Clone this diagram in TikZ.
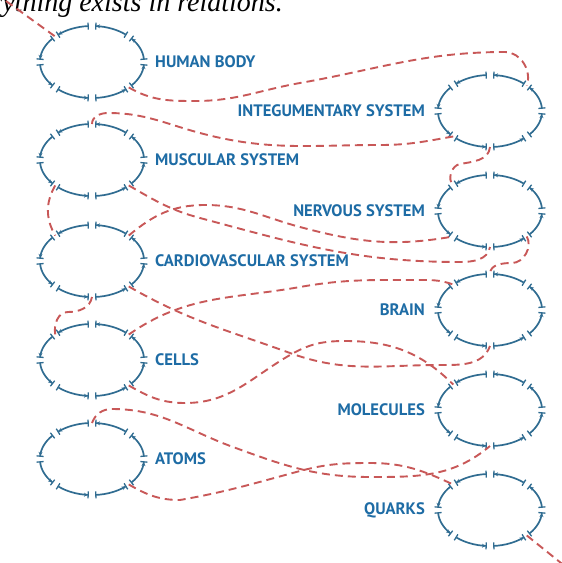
\documentclass[tikz,border=0pt]{standalone}
\usepackage{fontspec}
\setmainfont{Liberation Serif}
\newfontfamily\labelfont{PT Sans}
\usetikzlibrary{arrows.meta,positioning,shapes.geometric,calc}
\definecolor{ringblue}{RGB}{48,108,145}
\definecolor{labelblue}{RGB}{30,108,165}
\definecolor{linkred}{RGB}{200,88,88}

\begin{document}
\begin{tikzpicture}[
  x=1pt,y=1pt,
  ring/.style={ellipse,minimum width=104pt,minimum height=72pt,inner sep=0pt,outer sep=0pt},
  arcseg/.style={ringblue,line width=1.7pt,
                 arrows={Bar[width=7pt,line width=1.3pt]-Stealth[length=3.5pt,width=4pt]Bar[width=7pt,line width=1.3pt]}},
  lbl/.style={font=\labelfont\bfseries\fontsize{16.6}{18}\selectfont,text=labelblue,inner sep=0pt},
  motto/.style={font=\itshape\fontsize{28}{30}\selectfont,inner sep=0pt,anchor=base east},
  link/.style={linkred,line width=1.9pt,dash pattern=on 8pt off 5pt},
]
\useasboundingbox (0,0) rectangle (562,-563);

% Column centres and row heights, in pixels of the page (y runs down, so rows are negative).
\def\LX{92}
\def\RX{490}
\def\rowA{-62}   \def\rowB{-160}  \def\rowC{-261}  \def\rowD{-360}  \def\rowE{-459}
\def\rowF{-111}  \def\rowG{-211}  \def\rowH{-310}  \def\rowI{-410}  \def\rowJ{-510}

% ---------------- cut-off heading ----------------
\node[motto] (motto) at (283,-11) {Everything exists in relations.};

% ---------------- left column ----------------
\node[ring] (hb)    at (\LX,\rowA) {};
\node[ring] (mus)   at (\LX,\rowB) {};
\node[ring] (card)  at (\LX,\rowC) {};
\node[ring] (cells) at (\LX,\rowD) {};
\node[ring] (atoms) at (\LX,\rowE) {};

% ---------------- right column ----------------
\node[ring] (integ)  at (\RX,\rowF) {};
\node[ring] (nerv)   at (\RX,\rowG) {};
\node[ring] (brain)  at (\RX,\rowH) {};
\node[ring] (mol)    at (\RX,\rowI) {};
\node[ring] (quarks) at (\RX,\rowJ) {};

% ---------------- labels ----------------
\node[lbl,right=11pt of hb]    (hbtxt)    {HUMAN BODY};
\node[lbl,right=11pt of mus]   (mustxt)   {MUSCULAR SYSTEM};
\node[lbl,right=11pt of card]  (cardtxt)  {CARDIOVASCULAR SYSTEM};
\node[lbl,right=11pt of cells] (cellstxt) {CELLS};
\node[lbl,right=11pt of atoms] (atomstxt) {ATOMS};
\node[lbl,left=13pt of integ]  (integtxt) {INTEGUMENTARY SYSTEM};
\node[lbl,left=13pt of nerv]   (nervtxt)  {NERVOUS SYSTEM};
\node[lbl,left=13pt of brain]  (braintxt) {BRAIN};
\node[lbl,left=13pt of mol]    (moltxt)   {MOLECULES};
\node[lbl,left=13pt of quarks] (quarkstxt){QUARKS};

% ---------------- the broken rings: eight arcs, a gap every 45 degrees ----------------
\foreach \n in {hb,mus,card,cells,atoms,integ,nerv,brain,mol,quarks}{
  \foreach \a in {0,45,...,315}{
    \draw[arcseg] ($(\n.center)+(\a+3.5:52 and 36)$)
      arc[start angle=\a+3.5,end angle=\a+41.5,x radius=52,y radius=36];
  }
}

% ---------------- the red thread ----------------
\coordinate (threadin)  at (6,-1);
\coordinate (threadout) at (566,-567);
\draw[link] (threadin) -- (hb.north west);
\draw[link] (hb.south east) to[out=-30,in=180] (195,-101) to[out=0,in=190] (300,-83)
  to[out=10,in=180] (505,-52) to[out=0,in=70] (integ.north east);
\draw[link] (integ.south west) to[out=190,in=0] (380,-145) to[out=180,in=-15] (200,-133)
  to[out=165,in=0] (108,-113) to[out=180,in=90] (mus.north);
\draw[link] (integ.south) to[out=-95,in=10] (460,-164) to[out=190,in=135] (nerv.north west);
\draw[link] (mus.south west) to[out=-120,in=120] (card.north west);
\draw[link] (mus.south east) to[out=-30,in=165] (200,-218) to[out=-15,in=180] (460,-262)
  to[out=0,in=-100] (nerv.south);
\draw[link] (card.north east) to[out=40,in=180] (205,-205) to[out=0,in=165] (300,-227)
  to[out=-15,in=190] (nerv.south west);
\draw[link] (nerv.south east) to[out=-60,in=0] (512,-263) to[out=180,in=90] (brain.north);
\draw[link] (card.south east) to[out=-30,in=160] (290,-353) to[out=-20,in=180] (440,-365)
  to[out=0,in=-110] (brain.south);
\draw[link] (card.south) to[out=-100,in=0] (68,-312) to[out=180,in=100] (cells.north west);
\draw[link] (cells.north east) to[out=35,in=190] (300,-287) to[out=10,in=180] (415,-280)
  to[out=0,in=160] (brain.north west);
\draw[link] (cells.south east) to[out=-30,in=180] (185,-403) to[out=0,in=210] (290,-355)
  to[out=30,in=180] (345,-341) to[out=0,in=135] (mol.north west);
\draw[link] (atoms.north) to[out=70,in=180] (112,-409) to[out=0,in=160] (233,-447)
  to[out=-20,in=180] (370,-477) to[out=0,in=-140] (mol.south);
\draw[link] (atoms.south east) to[out=-30,in=180] (180,-500) to[out=10,in=195] (300,-471)
  to[out=15,in=180] (370,-463) to[out=0,in=155] (quarks.north west);
\draw[link] (quarks.south east) -- (threadout);

\end{tikzpicture}
\end{document}
